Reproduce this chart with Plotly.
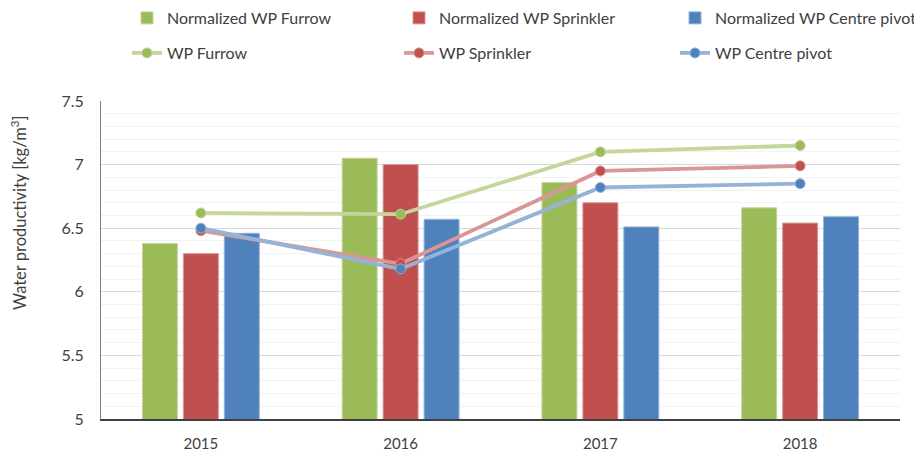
import plotly.graph_objects as go

years = ["2015", "2016", "2017", "2018"]
norm_furrow = [6.38, 7.05, 6.86, 6.66]
norm_sprinkler = [6.30, 7.00, 6.70, 6.54]
norm_pivot = [6.46, 6.57, 6.51, 6.59]
wp_furrow = [6.62, 6.61, 7.10, 7.15]
wp_sprinkler = [6.48, 6.22, 6.95, 6.99]
wp_pivot = [6.50, 6.18, 6.82, 6.85]

FONT = "Lato"
TXT = "#404040"
W, H = 914, 446  # page body adds an 8px margin, so 914x446 fills the 922x454 window

fig = go.Figure()
bar_specs = [
    ("Normalized WP Furrow", norm_furrow, "#9BBB59", "#C3D69B", "legend"),
    ("Normalized WP Sprinkler", norm_sprinkler, "#C0504D", "#D99694", "legend2"),
    ("Normalized WP Centre pivot", norm_pivot, "#4F81BD", "#95B3D7", "legend3"),
]
for name, vals, col, edge, lg in bar_specs:
    fig.add_trace(go.Bar(x=years, y=vals, name=name, legend=lg,
                         marker=dict(color=col, line=dict(color=edge, width=1))))

line_specs = [
    ("WP Furrow", wp_furrow, "#9BBB59", "#C3D69B", "legend4"),
    ("WP Sprinkler", wp_sprinkler, "#C0504D", "#D99694", "legend5"),
    ("WP Centre pivot", wp_pivot, "#4F81BD", "#95B3D7", "legend6"),
]
for name, vals, col, lc, lg in line_specs:
    fig.add_trace(go.Scatter(x=years, y=vals, name=name, mode="lines+markers", legend=lg,
                             line=dict(color=lc, width=3.8),
                             marker=dict(color=col, size=10, line=dict(color=lc, width=1))))

def leg(xpx, ypx):
    return dict(orientation="h", xref="container", yref="container",
                x=xpx / W, y=1 - ypx / H, xanchor="left", yanchor="middle",
                font=dict(family=FONT, size=16, color=TXT),
                bgcolor="rgba(0,0,0,0)", itemclick=False, itemdoubleclick=False)

col_x = [119, 391, 667]
row_y = [10, 45]

fig.update_layout(
    width=W, height=H,
    margin=dict(l=93, r=22, t=93, b=35, autoexpand=False),
    paper_bgcolor="white", plot_bgcolor="white",
    font=dict(family=FONT, size=15, color=TXT),
    barmode="group", bargap=0.385, bargroupgap=0.146,
    legend=leg(col_x[0], row_y[0]),
    legend2=leg(col_x[1], row_y[0]),
    legend3=leg(col_x[2], row_y[0]),
    legend4=leg(col_x[0], row_y[1]),
    legend5=leg(col_x[1], row_y[1]),
    legend6=leg(col_x[2], row_y[1]),
    showlegend=True,
    annotations=[dict(text="Water productivity [kg/m<sup>3</sup>]", textangle=-90,
                      xref="paper", yref="paper", x=(11 - 93) / 799, y=(411 - 205) / 318,
                      xanchor="center", yanchor="middle", showarrow=False,
                      font=dict(family=FONT, size=16.5, color=TXT))],
)
fig.update_yaxes(range=[5, 7.5], dtick=0.5, tickformat="~g",
                 showgrid=True, gridcolor="#D9D9D9", gridwidth=1,
                 minor=dict(dtick=0.1, showgrid=True, gridcolor="#F2F2F2", gridwidth=1),
                 showline=True, linecolor="#808080", linewidth=1,
                 ticks="", zeroline=False, ticklabelstandoff=13,
                 tickfont=dict(size=16, color=TXT))
fig.update_xaxes(showline=True, linecolor="#404040", linewidth=2, ticks="",
                 ticklabelstandoff=10,
                 tickfont=dict(size=15, color=TXT), showgrid=False)

fig.write_html("out.html")
